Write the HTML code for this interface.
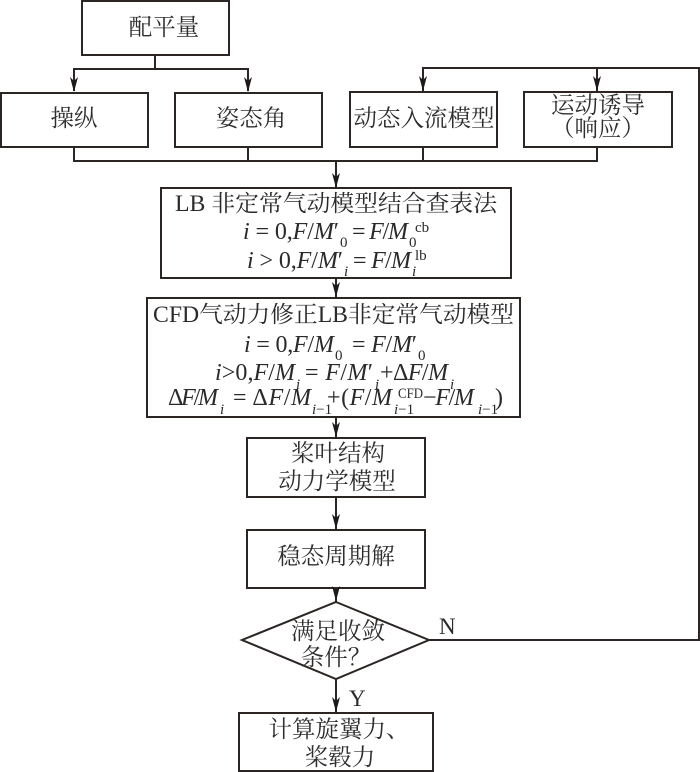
<!DOCTYPE html>
<html><head><meta charset="utf-8">
<style>
html,body{margin:0;padding:0;background:#fff;width:700px;height:772px;overflow:hidden}
svg{display:block;filter:blur(0.35px)}
.c{font-family:"Liberation Serif","Noto Serif CJK SC",serif;font-size:23.5px;fill:#2e2e2e;text-anchor:middle}
.m{font-family:"Liberation Serif","Noto Serif CJK SC",serif;font-size:23px;fill:#2a2a2a}
.f{font-size:24px}
.s{font-family:"Liberation Serif",serif;font-size:15px;fill:#2a2a2a}
.i{font-style:italic}
.b{fill:#fff;stroke:#2b2523;stroke-width:2}
.l{fill:none;stroke:#2b2523;stroke-width:2}
.a{fill:#1e1a18;stroke:none}
</style></head><body>
<svg width="700" height="772" viewBox="0 0 700 772" xmlns="http://www.w3.org/2000/svg">
<rect width="700" height="772" fill="#fff"/>
<!-- connectors -->
<path class="l" d="M155 55V69M74 91V69H248V91"/>
<path class="l" d="M74 147V161H597V147M248 147V161M423 147V161M336 161V188"/>
<path class="l" d="M423 91V68H699V640H429M597 68V91"/>
<path class="l" d="M336 278V298M336 417V438M336 497V530M336 588V602M336 679V713"/>
<!-- boxes -->
<rect class="b" x="82" y="1" width="147" height="54"/>
<rect class="b" x="1" y="93" width="147" height="54"/>
<rect class="b" x="175" y="93" width="147" height="54"/>
<rect class="b" x="350" y="92" width="147" height="55"/>
<rect class="b" x="524" y="92" width="148" height="55"/>
<rect class="b" x="161" y="188" width="350" height="90"/>
<rect class="b" x="147" y="298" width="373" height="119"/>
<rect class="b" x="247" y="438" width="178" height="59"/>
<rect class="b" x="247" y="530" width="178" height="58"/>
<polygon class="b" points="336,602 429,640 336,679 242,640"/>
<rect class="b" x="239" y="713" width="194" height="58"/>
<!-- arrowheads -->
<polygon class="a" points="74,92 70,77 74,81 78,77"/>
<polygon class="a" points="248,92 244,77 248,81 252,77"/>
<polygon class="a" points="423,91 419,76 423,80 427,76"/>
<polygon class="a" points="597,91 593,76 597,80 601,76"/>
<polygon class="a" points="336,188 332,173 336,177 340,173"/>
<polygon class="a" points="336,297 332,282 336,286 340,282"/>
<polygon class="a" points="336,437 332,422 336,426 340,422"/>
<polygon class="a" points="336,529 332,514 336,518 340,514"/>
<polygon class="a" points="336,601 332,586 336,590 340,586"/>
<polygon class="a" points="336,712 332,697 336,701 340,697"/>
<!-- box text -->
<text class="c" x="164" y="35">配平量</text>
<text class="c" x="74" y="126">操纵</text>
<text class="c" x="251" y="126">姿态角</text>
<text class="c" x="424" y="126">动态入流模型</text>
<text class="c" x="598" y="113">运动诱导</text>
<text class="c" x="598" y="136">（响应）</text>
<text class="c" x="338" y="461">桨叶结构</text>
<text class="c" x="337" y="489">动力学模型</text>
<text class="c" x="336" y="564">稳态周期解</text>
<text class="c" x="338" y="639">满足收敛</text>
<text class="c" x="336" y="665">条件？</text>
<text class="c" x="339" y="737">计算旋翼力、</text>
<text class="c" x="340" y="765">桨毂力</text>
<text class="m" x="439" y="634">N</text>
<text class="m" x="349" y="706">Y</text>
<!-- LB box -->
<text class="m" x="175" y="211" textLength="322" lengthAdjust="spacingAndGlyphs">LB 非定常气动模型结合查表法</text>
<text class="m f" x="243" y="239" textLength="96" lengthAdjust="spacing"><tspan class="i">i</tspan> = 0,<tspan class="i">F</tspan>/<tspan class="i">M</tspan>′</text>
<text class="s" x="340" y="247">0</text>
<text class="m f" x="352" y="239" textLength="56" lengthAdjust="spacing">= <tspan class="i">F</tspan>/<tspan class="i">M</tspan></text>
<text class="s" x="409" y="247">0</text>
<text class="s" x="415" y="232">cb</text>
<text class="m f" x="247" y="268" textLength="96" lengthAdjust="spacing"><tspan class="i">i</tspan> &gt; 0,<tspan class="i">F</tspan>/<tspan class="i">M</tspan>′</text>
<text class="s i" x="344" y="276">i</text>
<text class="m f" x="353" y="268" textLength="58" lengthAdjust="spacing">= <tspan class="i">F</tspan>/<tspan class="i">M</tspan></text>
<text class="s i" x="412" y="276">i</text>
<text class="s" x="415" y="260">lb</text>
<!-- CFD box -->
<text class="m" x="153" y="322" textLength="361" lengthAdjust="spacingAndGlyphs">CFD气动力修正LB非定常气动模型</text>
<text class="m f" x="244" y="352" textLength="90" lengthAdjust="spacing"><tspan class="i">i</tspan> = 0,<tspan class="i">F</tspan>/<tspan class="i">M</tspan></text>
<text class="s" x="335" y="360">0</text>
<text class="m f" x="352" y="352" textLength="65" lengthAdjust="spacing">= <tspan class="i">F</tspan>/<tspan class="i">M</tspan>′</text>
<text class="s" x="418" y="360">0</text>
<text class="m f" x="215" y="380" textLength="80" lengthAdjust="spacing"><tspan class="i">i</tspan>&gt;0,<tspan class="i">F</tspan>/<tspan class="i">M</tspan></text>
<text class="s i" x="296" y="389">i</text>
<text class="m f" x="305" y="380" textLength="68" lengthAdjust="spacing">= <tspan class="i">F</tspan>/<tspan class="i">M</tspan>′</text>
<text class="s i" x="375" y="389">i</text>
<text class="m f" x="380" y="380" textLength="68" lengthAdjust="spacing">+Δ<tspan class="i">F</tspan>/<tspan class="i">M</tspan></text>
<text class="s i" x="450" y="389">i</text>
<text class="m f" x="168" y="405" textLength="50" lengthAdjust="spacing">Δ<tspan class="i">F</tspan>/<tspan class="i">M</tspan></text>
<text class="s i" x="220" y="414">i</text>
<text class="m f" x="233" y="405" textLength="78" lengthAdjust="spacing">= Δ<tspan class="i">F</tspan>/<tspan class="i">M</tspan></text>
<text class="s" x="312" y="414"><tspan class="i">i</tspan>−1</text>
<text class="m f" x="327" y="405" textLength="65" lengthAdjust="spacing">+(<tspan class="i">F</tspan>/<tspan class="i">M</tspan></text>
<text class="s" x="398" y="398" textLength="25" lengthAdjust="spacingAndGlyphs">CFD</text>
<text class="s" x="394" y="414"><tspan class="i">i</tspan>−1</text>
<text class="m f" x="423" y="405" textLength="51" lengthAdjust="spacing">−<tspan class="i">F</tspan>/<tspan class="i">M</tspan></text>
<text class="s" x="478" y="414"><tspan class="i">i</tspan>−1</text>
<text class="m f" x="495" y="405">)</text>
</svg>
</body></html>
